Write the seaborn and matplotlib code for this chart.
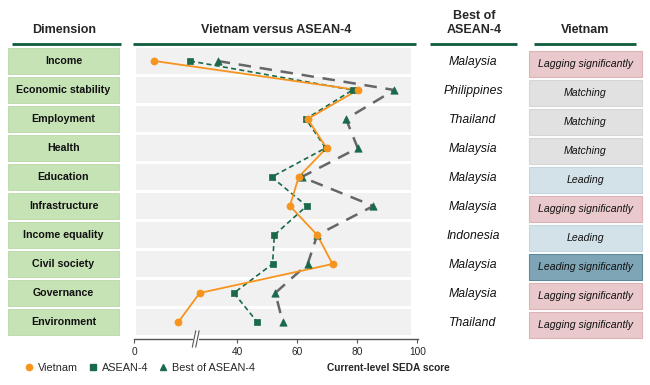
import numpy as np
import pandas as pd
import matplotlib
matplotlib.use("Agg")
import matplotlib.pyplot as plt
from matplotlib.patches import Rectangle
from matplotlib.lines import Line2D
import seaborn as sns

dimensions = ["Income", "Economic stability", "Employment", "Health", "Education",
              "Infrastructure", "Income equality", "Civil society", "Governance", "Environment"]
vietnam = [12.3, 80.1, 63.4, 69.7, 60.4, 57.5, 66.6, 71.7, 27.4, 20.3]
asean4 = [24.2, 78.4, 62.8, 69.4, 51.4, 63.1, 52.3, 51.7, 38.8, 46.6]
best_asean4 = [33.4, 92.3, 76.2, 80.1, 61.4, 85.3, 66.6, 63.4, 52.6, 55.1]
best_country = ["Malaysia", "Philippines", "Thailand", "Malaysia", "Malaysia",
                "Malaysia", "Indonesia", "Malaysia", "Malaysia", "Thailand"]
status = ["Lagging significantly", "Matching", "Matching", "Matching", "Leading",
          "Lagging significantly", "Leading", "Leading significantly",
          "Lagging significantly", "Lagging significantly"]
tick_values = [5.5, 40, 60, 80, 100]
tick_labels = ["0", "40", "60", "80", "100"]

status_colors = {
    "Lagging significantly": ("#e9c9cb", "#dcb4b7"),
    "Matching": ("#e1e1e1", "#d6d6d6"),
    "Leading": ("#d3e2e8", "#c4d6de"),
    "Leading significantly": ("#7ea5b5", "#5f8899"),
}

ORANGE = "#f7941d"
GREEN = "#19694a"
GRAY = "#666666"
LINE_GREEN = "#0f5c3c"

sns.set_theme(style="white")
plt.rcParams["font.family"] = ["Liberation Sans", "DejaVu Sans"]

W, H = 650, 385
fig = plt.figure(figsize=(W / 100, H / 100), dpi=100)

# overlay axes in pixel coordinates for the table parts
bg = fig.add_axes([0, 0, 1, 1])
bg.set_xlim(0, W)
bg.set_ylim(H, 0)
bg.axis("off")

row_top0 = 48
pitch = 29
box_h = 26

# headers
bg.text(64, 30, "Dimension", ha="center", va="center", fontsize=9, fontweight="bold")
bg.text(276, 30, "Vietnam versus ASEAN-4", ha="center", va="center", fontsize=9, fontweight="bold")
bg.text(474, 23, "Best of\nASEAN-4", ha="center", va="center", fontsize=9, fontweight="bold",
        linespacing=1.15)
bg.text(585, 30, "Vietnam", ha="center", va="center", fontsize=9, fontweight="bold")
for x0, x1 in [(12, 121), (133, 416), (430, 517), (534, 636)]:
    bg.plot([x0, x1], [44, 44], color=LINE_GREEN, lw=2, solid_capstyle="butt")

for i, dim in enumerate(dimensions):
    top = row_top0 + pitch * i
    cy = top + box_h / 2
    bg.add_patch(Rectangle((8, top), 111, box_h, facecolor="#c6e3b6", edgecolor="#b8d9a6", lw=0.6))
    bg.text(63.5, cy, dim, ha="center", va="center", fontsize=7.7, fontweight="bold", color="#111111")
    bg.text(473, cy + 1, best_country[i], ha="center", va="center", fontsize=8.8,
            style="italic", color="#111111")
    fc, ec = status_colors[status[i]]
    bg.add_patch(Rectangle((529, top + 3), 113, box_h, facecolor=fc, edgecolor=ec, lw=0.8))
    bg.text(585.5, top + 3 + box_h / 2, status[i], ha="center", va="center", fontsize=7.6,
            style="italic", color="#111111")

# chart axes
x_left, x_right = 134, 418
y_top, y_bottom = 47, 339
ax = fig.add_axes([x_left / W, 1 - y_bottom / H, (x_right - x_left) / W, (y_bottom - y_top) / H])
ax.patch.set_alpha(0)

rows = np.arange(len(dimensions))
df = pd.DataFrame({"dim": dimensions, "row": rows, "Vietnam": vietnam,
                   "ASEAN-4": asean4, "Best of ASEAN-4": best_asean4})

for i in rows:
    ax.axhspan(i - box_h / pitch / 2, i + box_h / pitch / 2, xmin=2 / 284, xmax=277 / 284,
               color="#f1f1f1", lw=0, zorder=0)

sns.lineplot(data=df, x="Best of ASEAN-4", y="row", sort=False, orient="y", ax=ax,
             color=GRAY, lw=1.8, linestyle=(0, (5, 3.5)), zorder=2)
sns.lineplot(data=df, x="ASEAN-4", y="row", sort=False, orient="y", ax=ax,
             color=GREEN, lw=1.2, linestyle=(0, (3, 2)), zorder=3)
sns.lineplot(data=df, x="Vietnam", y="row", sort=False, orient="y", ax=ax,
             color=ORANGE, lw=1.3, zorder=4)
sns.scatterplot(data=df, x="Best of ASEAN-4", y="row", ax=ax, marker="^", s=28,
                color=GREEN, edgecolor=GREEN, linewidth=0.5, zorder=5)
sns.scatterplot(data=df, x="ASEAN-4", y="row", ax=ax, marker="s", s=24,
                color=GREEN, edgecolor=GREEN, linewidth=0.5, zorder=6)
sns.scatterplot(data=df, x="Vietnam", y="row", ax=ax, marker="o", s=26,
                color=ORANGE, edgecolor=ORANGE, linewidth=0.5, zorder=7)

ax.set_xlim(5.5, 100.2)
ax.set_ylim(len(dimensions) - 1 + (y_bottom - (row_top0 + box_h / 2 + pitch * 9)) / pitch,
            -(row_top0 + box_h / 2 - y_top) / pitch)
ax.set_xticks(tick_values)
ax.set_xticklabels(tick_labels, fontsize=7.3)
ax.set_yticks([])
ax.set_xlabel("")
ax.set_ylabel("")
for s in ["top", "right", "left"]:
    ax.spines[s].set_visible(False)
ax.spines["bottom"].set_color("#555555")
ax.spines["bottom"].set_linewidth(1.0)
ax.tick_params(axis="x", length=3, width=0.8, color="#555555", pad=3, direction="out", bottom=True)

# axis break marks
bx = (196 - x_left) / (x_right - x_left)
ax.add_patch(Rectangle((bx - 0.012, -0.02), 0.024, 0.04, transform=ax.transAxes,
                       facecolor="white", edgecolor="none", clip_on=False, zorder=8))
for dx in (-0.007, 0.005):
    ax.plot([bx + dx - 0.006, bx + dx + 0.006], [-0.028, 0.028], transform=ax.transAxes,
            color="#555555", lw=0.8, clip_on=False, zorder=9)

# legend and axis title
handles = [Line2D([], [], marker="o", color=ORANGE, ls="none", markersize=4.5),
           Line2D([], [], marker="s", color=GREEN, ls="none", markersize=4),
           Line2D([], [], marker="^", color=GREEN, ls="none", markersize=4.5)]
fig.legend(handles, ["Vietnam", "ASEAN-4", "Best of ASEAN-4"], loc="center left",
           bbox_to_anchor=(18 / W, 1 - 368 / H), ncol=3, frameon=False, fontsize=7.8,
           handletextpad=0.25, columnspacing=0.75, handlelength=1.2, borderaxespad=0)
bg.text(388, 368, "Current-level SEDA score", ha="center", va="center", fontsize=7.3, fontweight="bold")

fig.savefig("out.png", dpi=100)
